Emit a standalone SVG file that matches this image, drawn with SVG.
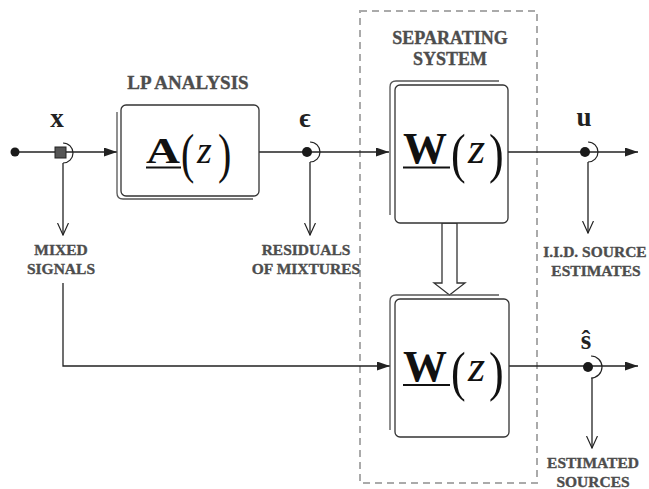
<svg xmlns="http://www.w3.org/2000/svg" width="649" height="489" viewBox="0 0 649 489">
<defs>
<style>
.ln{fill:none;stroke:#222;stroke-width:1.3}
.box{fill:#fff;stroke:#333;stroke-width:1.3}
.sh{fill:none;stroke:#555;stroke-width:1.3}
.lbl{font-family:"Liberation Serif","Times New Roman",serif;font-weight:bold;fill:#4d4d4d;stroke:#4d4d4d;stroke-width:0.35;text-anchor:middle}
.var{font-family:"Liberation Serif","DejaVu Serif",serif;font-weight:bold;fill:#222;text-anchor:middle;font-size:27px}
.m{font-family:"Liberation Serif","Times New Roman",serif;fill:#111}
.dot{fill:#1a1a1a}
.arc{fill:none;stroke:#222;stroke-width:1.2}
</style>
<marker id="arr" viewBox="0 0 13 9" refX="13" refY="4.5" markerWidth="13" markerHeight="9" markerUnits="userSpaceOnUse" orient="auto">
<path d="M0,0 L13,4.5 L0,9 z" fill="#222"/>
</marker>
<marker id="vee" viewBox="0 0 13 12" refX="12" refY="6" markerWidth="13" markerHeight="12" markerUnits="userSpaceOnUse" orient="auto">
<path d="M0,0.5 L12,6 L0,11.5" fill="none" stroke="#222" stroke-width="1.2"/>
</marker>
</defs>
<rect width="649" height="489" fill="#fff"/>

<g id="separating-system">
<rect x="360" y="11" width="177" height="472" fill="none" stroke="#aaa" stroke-width="2" stroke-dasharray="7,5"/>
<text class="lbl" x="450" y="44" font-size="18">SEPARATING</text>
<text class="lbl" x="450" y="65" font-size="18">SYSTEM</text>
</g>

<g id="connectors">
<path class="ln" d="M15 152 H117" marker-end="url(#arr)"/>
<path class="ln" d="M259 152 H389" marker-end="url(#arr)"/>
<path class="ln" d="M508 152 H638" marker-end="url(#arr)"/>
<path class="ln" d="M509 366 H638" marker-end="url(#arr)"/>
<path class="ln" d="M63 163 V235" marker-end="url(#vee)"/>
<path class="ln" d="M310 162 V235" marker-end="url(#vee)"/>
<path class="ln" d="M588 162 V233" marker-end="url(#vee)"/>
<path class="ln" d="M592 378 V448" marker-end="url(#vee)"/>
<path class="ln" d="M63 283 V366 H390" marker-end="url(#arr)"/>
<polygon points="442,223 442,283 434,283 449.5,295 465,283 457,283 457,223" fill="#fff" stroke="#333" stroke-width="1.3"/>
</g>

<g id="input-x">
<circle class="dot" cx="15" cy="152" r="4.5"/>
<rect x="55" y="147" width="11" height="11" fill="#555" stroke="#222" stroke-width="1"/>
<path class="arc" d="M63 143 A10 10 0 0 1 63 163"/>
<text class="var" x="57" y="127">x</text>
</g>

<g id="mixed-signals">
<text class="lbl" x="61" y="255" font-size="15.5">MIXED</text>
<text class="lbl" x="61" y="274" font-size="15.5">SIGNALS</text>
</g>

<g id="lp-analysis">
<text class="lbl" x="188" y="89" font-size="19">LP ANALYSIS</text>
<path class="sh" d="M117 112 V193 Q117 199 123 199 H253"/>
<rect class="box" x="121" y="105" width="138" height="91" rx="5"/>
<text class="m" x="146" y="163" font-size="36" font-weight="bold" textLength="34" lengthAdjust="spacingAndGlyphs">A</text>
<text class="m" font-size="40" transform="translate(181,172) scale(1,1.35)">(</text>
<text class="m" x="197" y="163" font-size="38" font-style="italic">z</text>
<text class="m" font-size="40" transform="translate(218,172) scale(1,1.35)">)</text>
<line x1="146" y1="167.5" x2="181" y2="167.5" stroke="#111" stroke-width="2"/>
</g>

<g id="residual-e">
<circle class="dot" cx="307" cy="152" r="5"/>
<path class="arc" d="M310 142 A10 10 0 0 1 310 162"/>
<text class="var" x="305" y="127">ϵ</text>
</g>

<g id="residuals-label">
<text class="lbl" x="306" y="255" font-size="15.5">RESIDUALS</text>
<text class="lbl" x="306" y="274" font-size="15.5">OF MIXTURES</text>
</g>

<g id="w-top">
<path class="sh" d="M390 215 V87 Q390 81 396 81 H499"/>
<rect class="box" x="395" y="85" width="113" height="138" rx="5"/>
<text class="m" x="403" y="163" font-size="44" font-weight="bold">W</text>
<text class="m" font-size="44" transform="translate(451,172) scale(1,1.25)">(</text>
<text class="m" x="468" y="163" font-size="44" font-style="italic">z</text>
<text class="m" font-size="44" transform="translate(489,172) scale(1,1.25)">)</text>
<line x1="403" y1="167.5" x2="450" y2="167.5" stroke="#111" stroke-width="2"/>
</g>

<g id="w-bottom">
<path class="sh" d="M390 430 V301 Q390 295 396 295 H499"/>
<rect class="box" x="395" y="299" width="114" height="138" rx="5"/>
<text class="m" x="403" y="381" font-size="44" font-weight="bold">W</text>
<text class="m" font-size="44" transform="translate(451,390) scale(1,1.25)">(</text>
<text class="m" x="468" y="381" font-size="44" font-style="italic">z</text>
<text class="m" font-size="44" transform="translate(489,390) scale(1,1.25)">)</text>
<line x1="403" y1="385" x2="450" y2="385" stroke="#111" stroke-width="2"/>
</g>

<g id="output-u">
<circle class="dot" cx="585" cy="152" r="5"/>
<path class="arc" d="M588 142 A10 10 0 0 1 588 162"/>
<text class="var" x="584" y="126">u</text>
</g>

<g id="iid-label">
<text class="lbl" x="595" y="257" font-size="15.5">I.I.D. SOURCE</text>
<text class="lbl" x="596" y="276" font-size="15.5">ESTIMATES</text>
</g>

<g id="output-s">
<circle class="dot" cx="588" cy="367" r="5"/>
<path class="arc" d="M591 356 A11 11 0 0 1 591 378"/>
<text class="var" x="586" y="349">ŝ</text>
</g>

<g id="estimated-label">
<text class="lbl" x="593" y="468" font-size="15.5">ESTIMATED</text>
<text class="lbl" x="593" y="487" font-size="15.5">SOURCES</text>
</g>
</svg>
